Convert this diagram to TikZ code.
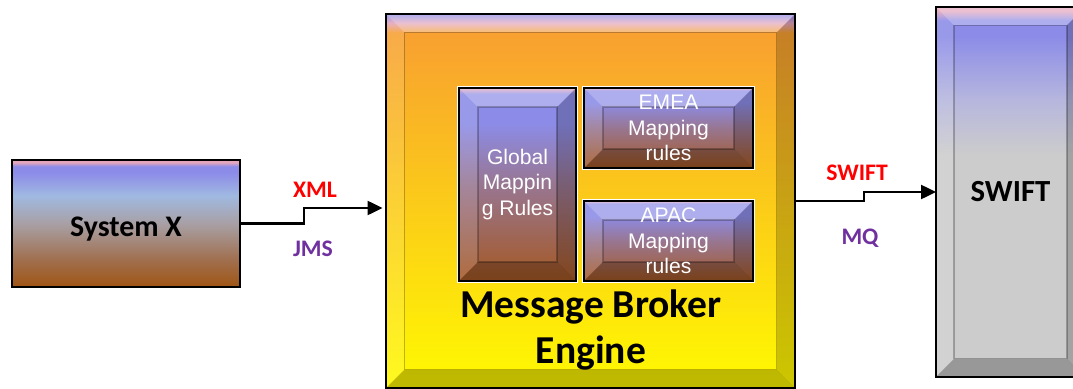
\documentclass[tikz,border=0pt]{standalone}
\usepackage{fontspec}
\setmainfont{Carlito}
\newfontfamily\arialfont{Liberation Sans}
\usepackage{xcolor}
\usepackage{tikz}
\usetikzlibrary{arrows.meta,positioning}

\definecolor{pinktop}{RGB}{228,166,188}
\definecolor{violet}{RGB}{140,140,232}
\definecolor{ltblue}{RGB}{160,185,225}
\definecolor{greymid}{RGB}{168,160,165}
\definecolor{brownmid}{RGB}{160,112,80}
\definecolor{brownbot}{RGB}{160,85,20}
\definecolor{orangetop}{RGB}{248,160,48}
\definecolor{yelbot}{RGB}{255,250,0}
\definecolor{mauve}{RGB}{152,118,145}
\definecolor{mapbrown}{RGB}{165,88,35}
\definecolor{swiftgrey}{RGB}{204,204,204}
\definecolor{lavender}{RGB}{182,182,222}
\definecolor{jmspurple}{RGB}{112,48,160}

\pgfdeclareverticalshading{sysxshade}{100bp}{color(0bp)=(brownbot); color(25bp)=(brownbot);
  color(36bp)=(brownmid); color(50bp)=(greymid); color(61bp)=(ltblue); color(70bp)=(violet);
  color(72.5bp)=(violet); color(74bp)=(pinktop); color(100bp)=(pinktop)}
\pgfdeclareverticalshading{brokershade}{100bp}{color(0bp)=(yelbot); color(25bp)=(yelbot);
  color(72.5bp)=(orangetop); color(73.8bp)=(pinktop); color(75bp)=(violet); color(100bp)=(violet)}
\pgfdeclareverticalshading{mapshade}{100bp}{color(0bp)=(mapbrown); color(25bp)=(mapbrown);
  color(50bp)=(mauve); color(66bp)=(violet); color(73.5bp)=(violet); color(75bp)=(pinktop);
  color(100bp)=(pinktop)}
\pgfdeclareverticalshading{swiftshade}{100bp}{color(0bp)=(swiftgrey); color(25bp)=(swiftgrey);
  color(55bp)=(swiftgrey); color(62.5bp)=(lavender); color(71bp)=(violet); color(73.2bp)=(violet);
  color(74.5bp)=(pinktop); color(100bp)=(pinktop)}

\begin{document}
\begin{tikzpicture}[x=0.02cm, y=-0.02cm,
    font=\bfseries,
    bevel/.style={path picture={
        \coordinate (bnw) at (path picture bounding box.north west);
        \coordinate (bse) at (path picture bounding box.south east);
        \coordinate (inw) at ([shift={(#1,-#1)}]bnw);
        \coordinate (ise) at ([shift={(-#1,#1)}]bse);
        \fill[white, opacity=.3] (bnw) -- (bnw -| bse) -- (inw -| ise) -- (inw) -- cycle;
        \fill[white, opacity=.12] (bnw) -- (inw) -- (inw |- ise) -- (bnw |- bse) -- cycle;
        \fill[black, opacity=.2] (bnw -| bse) -- (bse) -- (ise) -- (inw -| ise) -- cycle;
        \fill[black, opacity=.25] (bnw |- bse) -- (bse) -- (ise) -- (inw |- ise) -- cycle;
        \draw[black, opacity=.25, line width=0.6pt] (inw) rectangle (ise);
      }},
    box/.style={draw, line width=1.4pt, inner sep=0pt, outer sep=0pt, align=center},
    rulebox/.style={box, shading=mapshade, bevel=0.38cm,
      preaction={draw=white, line width=2.6pt}, text=white,
      font=\arialfont\fontsize{12}{14.5}\selectfont},
    arr/.style={-{Triangle[length=8.5pt, width=8pt]}, line width=1.15pt},
    lbl/.style={font=\bfseries\fontsize{13.5}{15}\selectfont},
  ]
    \clip (0,0) rectangle (1073,389);
    \fill[white] (0,0) rectangle (1073,389);

    % --- source ---
    \node[box, shading=sysxshade, minimum width=4.56cm, minimum height=2.54cm,
      text height=0.5cm, text depth=0cm,
      font=\bfseries\fontsize{17}{20}\selectfont] (sysx) at (126,223.5) {System X};

    % --- broker with its rule sets ---
    \node[box, shading=brokershade, bevel=0.36cm, line width=1.6pt,
      minimum width=8.18cm, minimum height=7.48cm] (broker) at (590.5,201) {};
    \node[rulebox, minimum width=2.34cm, minimum height=3.86cm] (global)
      at (517.5,184.5) {Global\\Mappin\\g Rules};
    \node[rulebox, minimum width=3.38cm, minimum height=1.6cm] (emea)
      at (668.5,128) {EMEA\\Mapping\\rules};
    \node[rulebox, minimum width=3.38cm, minimum height=1.6cm, below=0.66cm of emea]
      (apac) {APAC\\Mapping\\rules};
    \node[font=\bfseries\fontsize{22.5}{26.2}\selectfont, align=center] (broker-lbl)
      at (591,330) {Message Broker\\Engine};

    % --- target ---
    \node[box, shading=swiftshade, bevel=0.36cm, minimum width=2.98cm, minimum height=7.4cm,
      font=\bfseries\fontsize{17.5}{20}\selectfont] (swift) at (1010.5,192) {SWIFT};

    % --- links ---
    \draw[arr, shorten >=2pt] (sysx.east) -- ++(64,0) |- ([yshift=-0.14cm]broker.west);
    \draw[arr] (broker.east) -- ++(69,0) |- (swift.west);
    \node[lbl, text=red] (xml) at (315,190) {XML};
    \node[lbl, text=jmspurple] (jms) at (313,249) {JMS};
    \node[lbl, text=red] (swift-lbl) at (857,173) {SWIFT};
    \node[lbl, text=jmspurple] (mq) at (860,238) {MQ};
  \end{tikzpicture}
\end{document}
